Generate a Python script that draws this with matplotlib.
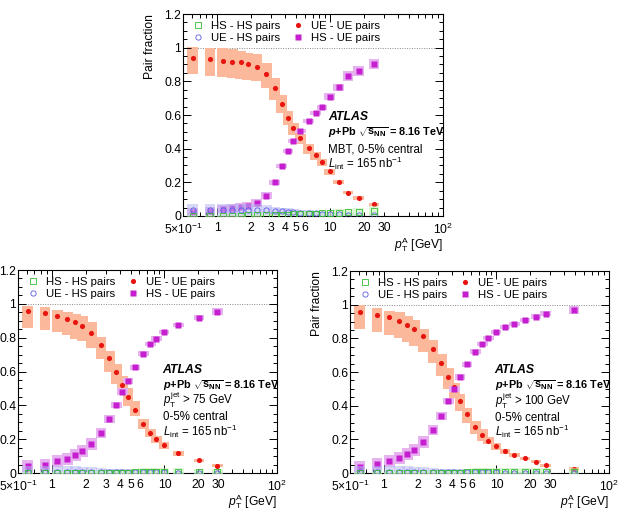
import numpy as np
import matplotlib
matplotlib.use("Agg")
import matplotlib.pyplot as plt
from matplotlib.ticker import FixedLocator, FuncFormatter
from matplotlib.lines import Line2D

plt.rcParams['font.family'] = ['Liberation Sans', 'DejaVu Sans']
plt.rcParams['mathtext.fontset'] = 'custom'
plt.rcParams['mathtext.rm'] = 'Liberation Sans'
plt.rcParams['mathtext.it'] = 'Liberation Sans:italic'
plt.rcParams['mathtext.bf'] = 'Liberation Sans:bold'
plt.rcParams['mathtext.bfit'] = 'Liberation Sans:bold:italic'
plt.rcParams['mathtext.sf'] = 'Liberation Sans'

# ---------------- data: top panel (MBT) ----------------
top_x = [0.61, 0.87, 1.12, 1.37, 1.62, 1.87, 2.24, 2.74, 3.24, 3.74, 4.24, 4.74,
         5.48, 6.48, 7.48, 8.49, 9.95, 11.96, 14.4, 17.9, 24.5]
top_ueue = [0.941, 0.931, 0.923, 0.917, 0.913, 0.903, 0.887, 0.842, 0.761, 0.666, 0.583, 0.520,
            0.462, 0.405, 0.360, 0.322, 0.265, 0.204, 0.138, 0.107, 0.069]
top_ueue_up = [0.063, 0.069, 0.075, 0.075, 0.070, 0.068, 0.075, 0.067, 0.060, 0.050, 0.040, 0.030,
               0.027, 0.022, 0.020, 0.018, 0.015, 0.012, 0.010, 0.010, 0.010]
top_ueue_dn = [0.100, 0.100, 0.100, 0.100, 0.100, 0.095, 0.085, 0.083, 0.073, 0.057, 0.045, 0.040,
               0.035, 0.035, 0.030, 0.025, 0.020, 0.015, 0.010, 0.010, 0.010]
top_hsue = [0.022, 0.030, 0.040, 0.045, 0.053, 0.061, 0.077, 0.120, 0.200, 0.298, 0.385, 0.447,
            0.504, 0.563, 0.611, 0.646, 0.708, 0.765, 0.834, 0.864, 0.901]
top_hsue_err = [0.025, 0.025, 0.025, 0.025, 0.025, 0.025, 0.025, 0.02, 0.015, 0.012, 0.012, 0.012,
                0.012, 0.012, 0.012, 0.015, 0.02, 0.02, 0.03, 0.03, 0.03]
top_uehs = [0.035, 0.035, 0.035, 0.035, 0.035, 0.035, 0.035, 0.033, 0.030, 0.027, 0.025, 0.022,
            0.020, 0.018, 0.016, 0.014, 0.012, 0.010, 0.008, 0.006, 0.004]
top_uehs_err = [0.035, 0.035, 0.035, 0.035, 0.035, 0.035, 0.035, 0.03, 0.025, 0.02, 0.02, 0.018,
                0.015, 0.015, 0.012, 0.012, 0.01, 0.01, 0.008, 0.006, 0.005]
top_hshs = [0.002, 0.002, 0.002, 0.002, 0.002, 0.003, 0.003, 0.004, 0.006, 0.007, 0.008, 0.009,
            0.012, 0.013, 0.014, 0.015, 0.017, 0.019, 0.021, 0.024, 0.030]
top_hshs_err = [0.005, 0.005, 0.005, 0.005, 0.005, 0.005, 0.006, 0.006, 0.008, 0.008, 0.01, 0.01,
                0.012, 0.015, 0.015, 0.017, 0.018, 0.02, 0.022, 0.025, 0.03]

# ---------------- data: bottom-left (jet > 75 GeV) ----------------
bl_x = [0.61, 0.87, 1.12, 1.37, 1.62, 1.87, 2.24, 2.74, 3.24, 3.74, 4.24, 4.74,
        5.48, 6.48, 7.48, 8.49, 9.95, 13.3, 20.3, 29.6]
bl_ueue = [0.955, 0.943, 0.927, 0.909, 0.890, 0.868, 0.827, 0.758, 0.677, 0.596, 0.518, 0.449,
           0.372, 0.291, 0.236, 0.199, 0.163, 0.118, 0.075, 0.043]
bl_ueue_up = [0.035, 0.040, 0.036, 0.042, 0.047, 0.059, 0.066, 0.048, 0.047, 0.047, 0.053, 0.053,
              0.053, 0.030, 0.025, 0.020, 0.020, 0.015, 0.010, 0.010]
bl_ueue_dn = [0.100, 0.100, 0.095, 0.094, 0.095, 0.089, 0.088, 0.082, 0.077, 0.071, 0.059, 0.053,
              0.036, 0.030, 0.025, 0.020, 0.020, 0.015, 0.010, 0.010]
bl_hsue = [0.039, 0.049, 0.069, 0.085, 0.106, 0.130, 0.169, 0.238, 0.319, 0.402, 0.480, 0.545,
           0.626, 0.705, 0.760, 0.795, 0.831, 0.876, 0.919, 0.953]
bl_hsue_err = [0.035, 0.035, 0.035, 0.035, 0.035, 0.035, 0.035, 0.03, 0.025, 0.02, 0.02, 0.018,
               0.015, 0.015, 0.012, 0.012, 0.012, 0.012, 0.015, 0.02]
bl_uehs = [0.005, 0.005, 0.005, 0.005, 0.005, 0.005, 0.005, 0.005, 0.004, 0.004, 0.004, 0.004,
           0.003, 0.003, 0.003, 0.003, 0.003, 0.002, 0.002, 0.002]
bl_uehs_err = [0.035, 0.035, 0.035, 0.035, 0.035, 0.03, 0.03, 0.025, 0.02, 0.02, 0.018, 0.015,
               0.012, 0.01, 0.01, 0.008, 0.008, 0.006, 0.005, 0.005]
bl_hshs = [0.001, 0.001, 0.001, 0.001, 0.001, 0.001, 0.001, 0.001, 0.002, 0.002, 0.002, 0.002,
           0.003, 0.003, 0.003, 0.003, 0.003, 0.003, 0.003, 0.003]
bl_hshs_err = [0.005, 0.005, 0.005, 0.005, 0.005, 0.005, 0.006, 0.008, 0.01, 0.012, 0.015, 0.018,
               0.022, 0.025, 0.025, 0.025, 0.025, 0.025, 0.02, 0.02]

# ---------------- data: bottom-right (jet > 100 GeV) ----------------
br_x = [0.61, 0.87, 1.12, 1.37, 1.62, 1.87, 2.24, 2.74, 3.24, 3.74, 4.24, 4.74,
        5.48, 6.48, 7.48, 8.49, 9.95, 11.96, 14.4, 17.9, 22.4, 27.4, 49.0]
br_ueue = [0.955, 0.939, 0.925, 0.905, 0.882, 0.856, 0.811, 0.738, 0.653, 0.570, 0.510, 0.426,
           0.349, 0.274, 0.225, 0.191, 0.158, 0.130, 0.108, 0.087, 0.067, 0.045, 0.024]
br_ueue_up = [0.045, 0.041, 0.039, 0.052, 0.053, 0.055, 0.047, 0.055, 0.055, 0.055, 0.026, 0.041,
              0.040, 0.036, 0.035, 0.020, 0.020, 0.015, 0.012, 0.010, 0.010, 0.010, 0.010]
br_ueue_dn = [0.097, 0.101, 0.103, 0.102, 0.103, 0.103, 0.091, 0.083, 0.077, 0.073, 0.062, 0.057,
              0.049, 0.044, 0.035, 0.020, 0.020, 0.015, 0.012, 0.010, 0.010, 0.010, 0.010]
br_hsue = [0.037, 0.053, 0.069, 0.091, 0.114, 0.138, 0.185, 0.258, 0.339, 0.428, 0.499, 0.572,
           0.647, 0.720, 0.767, 0.803, 0.836, 0.866, 0.886, 0.908, 0.927, 0.947, 0.970]
br_hsue_err = [0.035, 0.035, 0.035, 0.035, 0.035, 0.035, 0.035, 0.03, 0.025, 0.02, 0.02, 0.018,
               0.015, 0.015, 0.012, 0.012, 0.012, 0.012, 0.012, 0.012, 0.015, 0.015, 0.025]
br_uehs = [0.005, 0.005, 0.005, 0.005, 0.005, 0.005, 0.005, 0.005, 0.004, 0.004, 0.004, 0.004,
           0.003, 0.003, 0.003, 0.003, 0.003, 0.002, 0.002, 0.002, 0.002, 0.002, 0.002]
br_uehs_err = [0.035, 0.035, 0.035, 0.035, 0.035, 0.03, 0.03, 0.025, 0.02, 0.02, 0.018, 0.015,
               0.012, 0.01, 0.01, 0.008, 0.008, 0.006, 0.005, 0.005, 0.005, 0.005, 0.005]
br_hshs = [0.001, 0.001, 0.001, 0.001, 0.001, 0.001, 0.001, 0.001, 0.002, 0.002, 0.002, 0.002,
           0.003, 0.003, 0.003, 0.003, 0.003, 0.003, 0.003, 0.003, 0.003, 0.004, 0.004]
br_hshs_err = [0.005, 0.005, 0.005, 0.005, 0.005, 0.005, 0.006, 0.008, 0.01, 0.012, 0.015, 0.018,
               0.022, 0.025, 0.025, 0.025, 0.025, 0.025, 0.025, 0.025, 0.025, 0.025, 0.025]

labels = ["HS - HS pairs", "UE - HS pairs", "UE - UE pairs", "HS - UE pairs"]
info_lines = {
    'top': ["MBT, 0-5% central"],
    'bl': [r"$p_{\mathrm{T}}^{\mathrm{jet}}$ > 75 GeV", "0-5% central"],
    'br': [r"$p_{\mathrm{T}}^{\mathrm{jet}}$ > 100 GeV", "0-5% central"],
}

C_UEUE = '#e8140f'
C_UEUE_B = '#fbb89a'
C_HSUE = '#c51fd0'
C_HSUE_B = '#e6b3f0'
C_UEHS = '#5a5ae6'
C_UEHS_B = '#b7b7f2'
C_HSHS = '#33bb33'
C_HSHS_B = '#bff0b0'

FS = 8.7
W, H = 630, 511
fig = plt.figure(figsize=(W / 100, H / 100), dpi=100)

def axes_px(l, t, r, b):
    return fig.add_axes([l / W, 1 - b / H, (r - l) / W, (b - t) / H])

HW = 0.047  # half width of uncertainty boxes, in decades

def boxes(ax, x, y, up, dn, color, z, alpha=1.0):
    x = np.asarray(x, float); y = np.asarray(y, float)
    up = np.asarray(up, float); dn = np.asarray(dn, float)
    for xi, yi, u, d in zip(x, y, up, dn):
        ax.fill_between([xi * 10 ** (-HW), xi * 10 ** HW], [yi - d] * 2, [yi + u] * 2,
                        color=color, lw=0, zorder=z, alpha=alpha)

def panel(ax, x, ueue, ueue_up, ueue_dn, hsue, hsue_err, uehs, uehs_err, hshs, hshs_err, key, ylabel, info_y):
    boxes(ax, x, ueue, ueue_up, ueue_dn, C_UEUE_B, 1)
    boxes(ax, x, hsue, hsue_err, hsue_err, C_HSUE_B, 1)
    ax.plot(x, ueue, 'o', color=C_UEUE, ms=3.7, mec='none', zorder=3)
    ax.plot(x, hsue, 's', color=C_HSUE, ms=3.8, mec='none', zorder=3)
    boxes(ax, x, uehs, uehs_err, uehs_err, C_UEHS_B, 4, alpha=0.55)
    boxes(ax, x, hshs, hshs_err, hshs_err, C_HSHS_B, 4, alpha=0.55)
    ax.plot(x, uehs, 'o', mfc='none', mec=C_UEHS, ms=3.8, mew=0.6, zorder=5, ls='none')
    ax.plot(x, hshs, 's', mfc='none', mec=C_HSHS, ms=3.8, mew=0.6, zorder=5, ls='none')
    ax.axhline(1.0, color='#888888', ls=(0, (1, 1.5)), lw=0.7, zorder=0)

    ax.set_xscale('log')
    ax.set_xlim(0.5, 100)
    ax.set_ylim(0, 1.2)
    ax.xaxis.set_major_locator(FixedLocator([1, 10, 100]))
    ax.xaxis.set_minor_locator(FixedLocator([0.5, 0.6, 0.7, 0.8, 0.9, 2, 3, 4, 5, 6, 7, 8, 9,
                                             20, 30, 40, 50, 60, 70, 80, 90]))
    maj = {1: '1', 10: '10', 100: r'10$^{2}$'}
    mino = {0.5: r'5$\times$10$^{-1}$', 2: '2', 3: '3', 4: '4', 5: '5', 6: '6', 20: '20', 30: '30'}
    ax.xaxis.set_major_formatter(FuncFormatter(lambda v, p: maj.get(round(v, 3), '')))
    ax.xaxis.set_minor_formatter(FuncFormatter(lambda v, p: mino.get(round(v, 3), '')))
    ax.set_yticks([0, 0.2, 0.4, 0.6, 0.8, 1.0, 1.2])
    ax.set_yticklabels(['0', '0.2', '0.4', '0.6', '0.8', '1', '1.2'])
    ax.set_yticks(np.arange(0, 1.2001, 0.05), minor=True)
    ax.tick_params(which='both', direction='in', top=True, right=True, labelsize=FS, width=0.7)
    ax.tick_params(which='major', length=6)
    ax.tick_params(which='minor', length=3)
    ax.tick_params(axis='x', which='both', pad=4.5)
    ax.tick_params(axis='y', which='both', pad=1.2)
    for s in ax.spines.values():
        s.set_linewidth(0.8)
    ax.set_xlabel(r"$p_{\mathrm{T}}^{\mathrm{A}}$ [GeV]", fontsize=FS, loc='right', labelpad=-1.5)
    if ylabel:
        ax.set_ylabel("Pair fraction", fontsize=FS, loc='top', labelpad=6)

    handles = [Line2D([], [], marker='s', ls='none', mfc='none', mec=C_HSHS, ms=3.8, mew=0.6),
               Line2D([], [], marker='o', ls='none', mfc='none', mec=C_UEHS, ms=3.8, mew=0.6),
               Line2D([], [], marker='o', ls='none', color=C_UEUE, ms=3.7, mec='none'),
               Line2D([], [], marker='s', ls='none', color=C_HSUE, ms=3.8, mec='none')]
    ax.legend(handles, labels, ncol=2, loc='upper left', bbox_to_anchor=(0.0, 1.0),
              frameon=False, fontsize=8.2, handletextpad=0.4, columnspacing=0.9,
              labelspacing=0.12, borderaxespad=0.25, handlelength=1.4)

    tx = 0.558
    y0 = info_y
    ax.text(tx, y0, "ATLAS", transform=ax.transAxes, fontsize=8.8, fontweight='bold',
            style='italic', va='baseline')
    ax.text(tx, y0 - 0.075, r"$\mathbfit{p}$+Pb $\sqrt{\mathbf{s}_{\mathbf{NN}}}$ = 8.16 TeV",
            transform=ax.transAxes, fontsize=7.8, fontweight='bold', va='baseline')
    yy = y0 - 0.16
    for line in info_lines[key]:
        ax.text(tx, yy, line, transform=ax.transAxes, fontsize=8.3, va='baseline')
        yy -= 0.076
    ax.text(tx, yy, r"$L_{\mathrm{int}}$ = 165 nb$^{-1}$", transform=ax.transAxes,
            fontsize=8.3, va='baseline')

ax_top = axes_px(183, 14, 443, 216)
panel(ax_top, top_x, top_ueue, top_ueue_up, top_ueue_dn, top_hsue, top_hsue_err,
      top_uehs, top_uehs_err, top_hshs, top_hshs_err, 'top', True, 0.475)

ax_bl = axes_px(18, 270, 277, 473)
panel(ax_bl, bl_x, bl_ueue, bl_ueue_up, bl_ueue_dn, bl_hsue, bl_hsue_err,
      bl_uehs, bl_uehs_err, bl_hshs, bl_hshs_err, 'bl', False, 0.495)

ax_br = axes_px(350, 271, 609, 473)
panel(ax_br, br_x, br_ueue, br_ueue_up, br_ueue_dn, br_hsue, br_hsue_err,
      br_uehs, br_uehs_err, br_hshs, br_hshs_err, 'br', True, 0.495)

fig.savefig("out.png", dpi=100)
